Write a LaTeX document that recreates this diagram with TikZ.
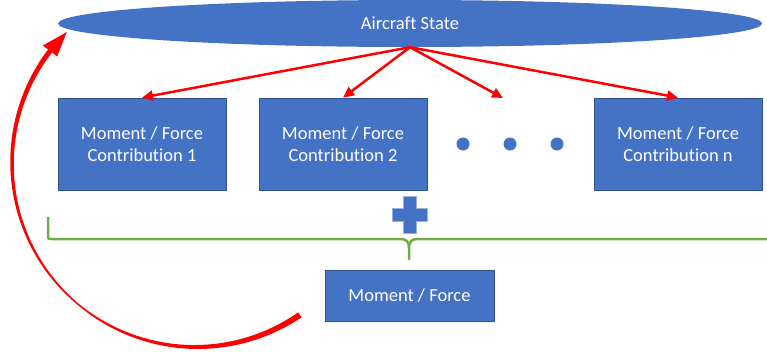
\documentclass[tikz,border=0pt]{standalone}
\usepackage{fontspec}
\setmainfont{Carlito}[RawFeature={-liga}]
\usetikzlibrary{shapes.geometric,arrows.meta}
\definecolor{boxblue}{HTML}{4472C4}
\definecolor{edgeblue}{HTML}{2F528F}
\definecolor{brgreen}{HTML}{70AD47}
\begin{document}
\begin{tikzpicture}[x=1pt,y=-1pt,
  declare function={w(\t)=(\t>-130)?(1.5+0.0605*(\t+130)):(1.5+0.0398*(-130-\t));},
  blk/.style={rectangle, fill=boxblue, draw=edgeblue, line width=0.8pt, inner sep=0pt,
    text=white, font=\fontsize{18.5}{22.5}\selectfont, align=center},
  contrib/.style={blk, minimum width=168pt, minimum height=92pt},
  dotnode/.style={circle, fill=boxblue, inner sep=0pt, minimum size=13pt},
  redarrow/.style={draw=red, line width=2.5pt, -{Triangle[length=11pt,width=10pt]}},
  bracestyle/.style={draw=brgreen, line width=2.5pt, line join=round}
]
\useasboundingbox (0,0) rectangle (767,351);

% aircraft state
\node[ellipse, fill=boxblue, minimum width=704pt, minimum height=47pt, inner sep=0pt,
      text=white, font=\fontsize{18.5}{22.5}\selectfont] (state) at (410,23.5) {Aircraft State};

% contribution boxes
\node[contrib] (c1) at (142,144) {Moment / Force\\Contribution 1};
\node[contrib] (c2) at (343,144) {Moment / Force\\Contribution 2};
\node[contrib] (cn) at (678,144) {Moment / Force\\Contribution n};

% dots
\node[dotnode] (d1) at (463,144) {};
\node[dotnode] (d2) at (510,144) {};
\node[dotnode] (d3) at (557,144) {};

% red arrows
\coordinate (c3end) at (503,98);
\draw[redarrow] (state.south) -- (c1.north);
\draw[redarrow] (state.south) -- (c2.north);
\draw[redarrow] (state.south) -- (c3end);
\draw[redarrow] (state.south) -- (cn.north);

% plus sign
\fill[boxblue, draw=boxblue!55!white, line width=0.6pt]
  (403,196) -- (416,196) -- (416,208) -- (427,208) -- (427,221) -- (416,221) -- (416,233)
  -- (403,233) -- (403,221) -- (392,221) -- (392,208) -- (403,208) -- cycle;

% green brace
\draw[bracestyle] (48,217) -- (48,235) .. controls (48,239) .. (52,239) -- (400,239)
  .. controls (406,239) and (409,241) .. (409,248) -- (409,260);
\draw[bracestyle] (767,239) -- (418,239) .. controls (412,239) and (409,241) .. (409,248);

% result box
\node[blk, minimum width=169pt, minimum height=51pt] (res) at (409.5,295.5) {Moment / Force};

% feedback arc (tapered)
\fill[red] plot[domain=-55.6:-218.5, samples=90]
    ({196+(184+w(\x)/2)*cos(\x)},{163-(184+w(\x)/2)*sin(\x)})
  -- plot[domain=-218.5:-55.6, samples=90]
    ({196+(184-w(\x)/2)*cos(\x)},{163-(184-w(\x)/2)*sin(\x)}) -- cycle;
\coordinate (tip) at ({196+184*cos(-225.4)},{163-184*sin(-225.4)});
\fill[red] (tip) -- ({196+193*cos(-217.5)},{163-193*sin(-217.5)})
  -- ({196+175*cos(-217.5)},{163-175*sin(-217.5)}) -- cycle;
\end{tikzpicture}
\end{document}
